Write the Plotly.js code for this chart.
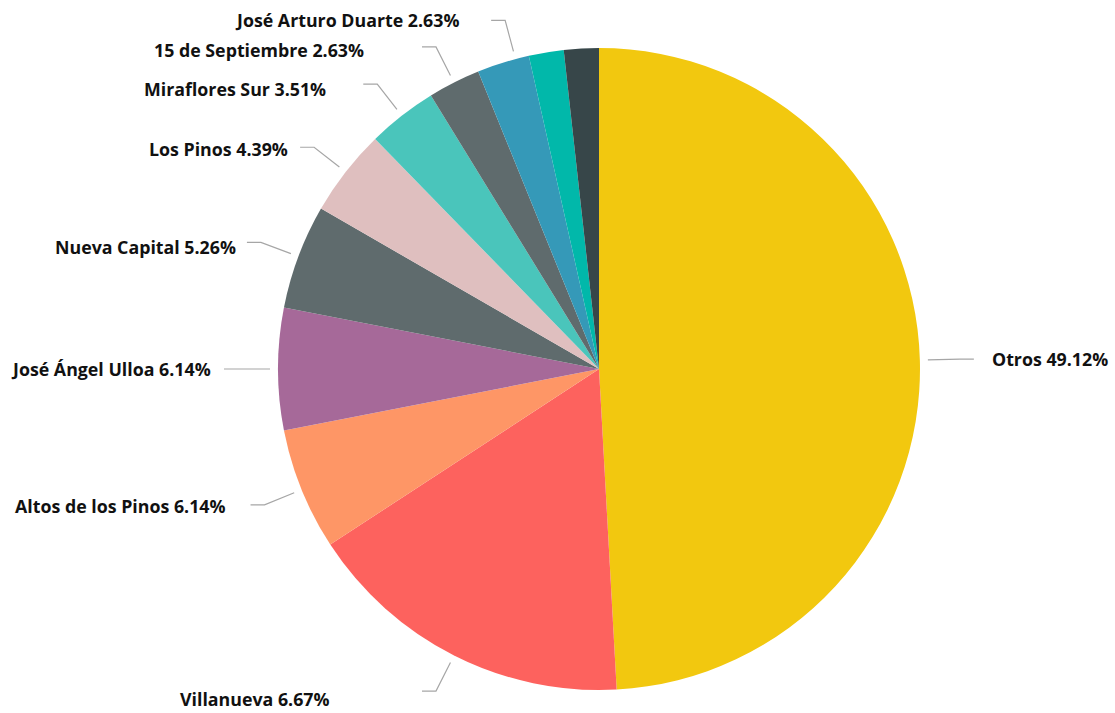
<!DOCTYPE html>
<html>
<head>
<meta charset="utf-8">
<script src="https://cdn.plot.ly/plotly-3.0.1.min.js"></script>
<style>html,body{margin:0;padding:0;background:#fff}#chart{width:1115px;height:713px}</style>
</head>
<body>
<div id="chart"></div>
<script>
// ---- data ----
const categories = ['Otros', 'Villanueva', 'Altos de los Pinos', 'José Ángel Ulloa', 'Nueva Capital',
  'Los Pinos', 'Miraflores Sur', '15 de Septiembre', 'José Arturo Duarte', 'Otro barrio A', 'Otro barrio B'];
const counts = [56, 19, 7, 7, 6, 5, 4, 3, 3, 2, 2];
const shownPercent = ['49.12%', '6.67%', '6.14%', '6.14%', '5.26%', '4.39%', '3.51%', '2.63%', '2.63%', '', ''];

// ---- styles ----
const colors = ['#F2C80F', '#FD625E', '#FE9666', '#A66999', '#5F6B6D', '#DFBFBF',
  '#4AC5BB', '#5F6B6D', '#3599B8', '#01B8AA', '#374649'];
// label placement tweaks: angle nudge (deg), text gap from line end (px), vertical shift (px)
const labelStyle = [
  {da: 0, gap: 16, dy: 0}, {da: 0, gap: 90, dy: 8}, {da: 0, gap: 24, dy: 1},
  {da: 0, gap: 11, dy: 0}, {da: 0, gap: 9, dy: 5}, {da: 0, gap: 10, dy: 2},
  {da: 0, gap: 35, dy: 5}, {da: 0, gap: 56, dy: 3}, {da: 2.3, gap: 30, dy: 0},
  null, null
];

const W = 1115, H = 713;
const cx = 599, cy = 369, R = 321;
const dom = {x: [(cx - R) / W, (cx + R) / W], y: [(H - cy - R) / H, (H - cy + R) / H]};
const px = x => x / W, py = y => 1 - y / H;

const total = counts.reduce((a, b) => a + b, 0);
const shapes = [], annotations = [];
let cum = 0;
counts.forEach((v, i) => {
  const mid = (cum + v / 2) / total * 360;
  cum += v;
  const st = labelStyle[i];
  if (!st) return;
  const th = (mid + st.da) * Math.PI / 180;
  const s = Math.sin(th), c = Math.cos(th);
  const x0 = cx + (R + 8) * s, y0 = cy - (R + 8) * c;
  const x1 = cx + (R + 40) * s, y1 = cy - (R + 40) * c;
  const side = s >= 0 ? 1 : -1;
  const x2 = x1 + side * 14, y2 = y1;
  shapes.push({type: 'path', xref: 'paper', yref: 'paper',
    path: `M${px(x0)},${py(y0)} L${px(x1)},${py(y1)} L${px(x2)},${py(y2)}`,
    line: {color: '#A6A6A6', width: 1.2}});
  annotations.push({xref: 'paper', yref: 'paper', x: px(x2 + side * st.gap), y: py(y2 + st.dy),
    xanchor: side > 0 ? 'left' : 'right', yanchor: 'middle', showarrow: false,
    text: categories[i] + ' ' + shownPercent[i],
    font: {family: 'Open Sans, sans-serif', size: 17.8, color: '#111111', weight: 'bold'}});
});

const trace = {
  type: 'pie', labels: categories, values: counts, sort: false, direction: 'clockwise', rotation: 0,
  textinfo: 'none', hoverinfo: 'label+value+percent',
  marker: {colors: colors, line: {width: 0}}, domain: dom
};

Plotly.newPlot('chart', [trace], {
  width: W, height: H, margin: {l: 0, r: 0, t: 0, b: 0},
  paper_bgcolor: '#ffffff', showlegend: false, shapes: shapes, annotations: annotations
}, {displayModeBar: false, staticPlot: true});
</script>
</body>
</html>
